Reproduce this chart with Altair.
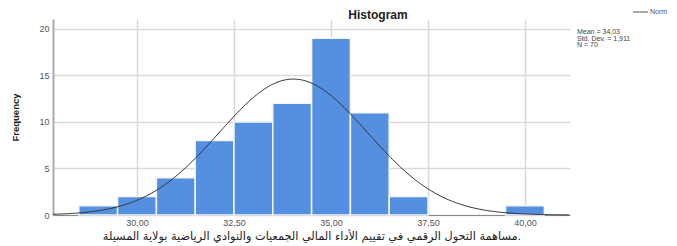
import altair as alt
import pandas as pd

# ---- data ----
bin_centers = [29, 30, 31, 32, 33, 34, 35, 36, 37, 40]
counts = [1, 2, 4, 8, 10, 12, 19, 11, 2, 1]
bin_width = 1.0
mean = 34.03
std_dev = 1.911
n_obs = 70
x_ticks = [30, 32.5, 35, 37.5, 40]
y_ticks = [0, 5, 10, 15, 20]
x_domain = [27.835, 41.16]
y_domain = [0, 21.07]
chart_title = "Histogram"
x_title = "مساهمة التحول الرقمي في تقييم الأداء المالي الجمعيات والنوادي الرياضية بولاية المسيلة."
y_title = "Frequency"
legend_label = "Norm"
stats_lines = [
    "Mean = " + f"{mean:.2f}".replace(".", ","),
    "Std. Dev. = " + f"{std_dev:.3f}".replace(".", ","),
    "N = " + str(n_obs),
]

bars_df = pd.DataFrame({
    "start": [c - bin_width / 2 for c in bin_centers],
    "end": [c + bin_width / 2 for c in bin_centers],
    "count": counts,
})

FONT = "Liberation Sans"
W, H = 517, 196

x_scale = alt.Scale(domain=x_domain, nice=False, zero=False)
y_scale = alt.Scale(domain=y_domain, nice=False)

x_axis = alt.Axis(
    values=x_ticks,
    labelExpr="replace(format(datum.value, '.2f'), '.', ',')",
    title=x_title,
    titleFont="DejaVu Sans",
    titleFontSize=11.3,
    titleFontWeight="normal",
    titleColor="#222",
    titleX=W / 2,
    titleY=21,
    titleBaseline="middle",
    titleAlign="center",
    labelFont=FONT,
    labelFontSize=9,
    labelColor="#555",
    labelPadding=3,
    ticks=False,
    grid=True,
    gridColor="#d9d9d9",
    gridWidth=1.5,
    domainColor="#888",
    domainWidth=1,
)
y_axis = alt.Axis(
    values=y_ticks,
    title=y_title,
    titleFont="Liberation Sans Narrow, Liberation Sans",
    titleFontSize=9.5,
    titleFontWeight="bold",
    titleColor="#222",
    titleAngle=-90,
    titleX=-38,
    titleY=98,
    titleBaseline="middle",
    titleAlign="center",
    labelFont=FONT,
    labelFontSize=9,
    labelColor="#555",
    labelPadding=4,
    ticks=False,
    grid=True,
    gridColor="#d9d9d9",
    gridWidth=1.5,
    domainColor="#aaa",
    domainWidth=2,
)

bars = alt.Chart(bars_df).mark_bar(
    color="#5590e0", stroke="#f4f6fa", strokeWidth=1.5
).encode(
    x=alt.X("start:Q", scale=x_scale, axis=x_axis),
    x2="end:Q",
    y=alt.Y("count:Q", scale=y_scale, axis=y_axis),
    y2=alt.datum(0),
)

curve = alt.Chart(alt.sequence(x_domain[0], x_domain[1], 0.05, as_="x")).transform_calculate(
    y=f"{n_obs} * {bin_width} * exp(-0.5 * pow((datum.x - {mean}) / {std_dev}, 2)) / ({std_dev} * sqrt(2 * PI))"
).mark_line(color="#333333", strokeWidth=1).encode(
    x=alt.X("x:Q", scale=x_scale, axis=x_axis),
    y=alt.Y("y:Q", scale=y_scale, axis=y_axis),
)

one = pd.DataFrame({"k": [0]})

title_mark = alt.Chart(one).mark_text(
    text=chart_title, font=FONT, fontSize=12, fontWeight="bold", color="#222",
    align="center", baseline="middle"
).encode(x=alt.value(325), y=alt.value(-4))

leg_line = alt.Chart(one).mark_rule(color="#555", strokeWidth=1).encode(
    x=alt.value(580), x2=alt.value(595), y=alt.value(-7)
)
leg_text = alt.Chart(one).mark_text(
    text=legend_label, font=FONT, fontSize=7, color="#555", align="left", baseline="middle"
).encode(x=alt.value(597), y=alt.value(-7))

stats = alt.Chart(one).mark_text(
    text=stats_lines, font=FONT, fontSize=7, lineHeight=6.5, color="#444",
    align="left", baseline="top"
).encode(x=alt.value(524), y=alt.value(9))

chart = alt.layer(bars, curve, title_mark, leg_line, leg_text, stats).properties(
    width=W,
    height=H,
    autosize=alt.AutoSizeParams(type="none"),
    padding={"left": 45, "top": 11, "right": 99, "bottom": 31},
).configure_view(stroke=None)

chart.save("out.html", embed_options={"renderer": "svg", "actions": False})
